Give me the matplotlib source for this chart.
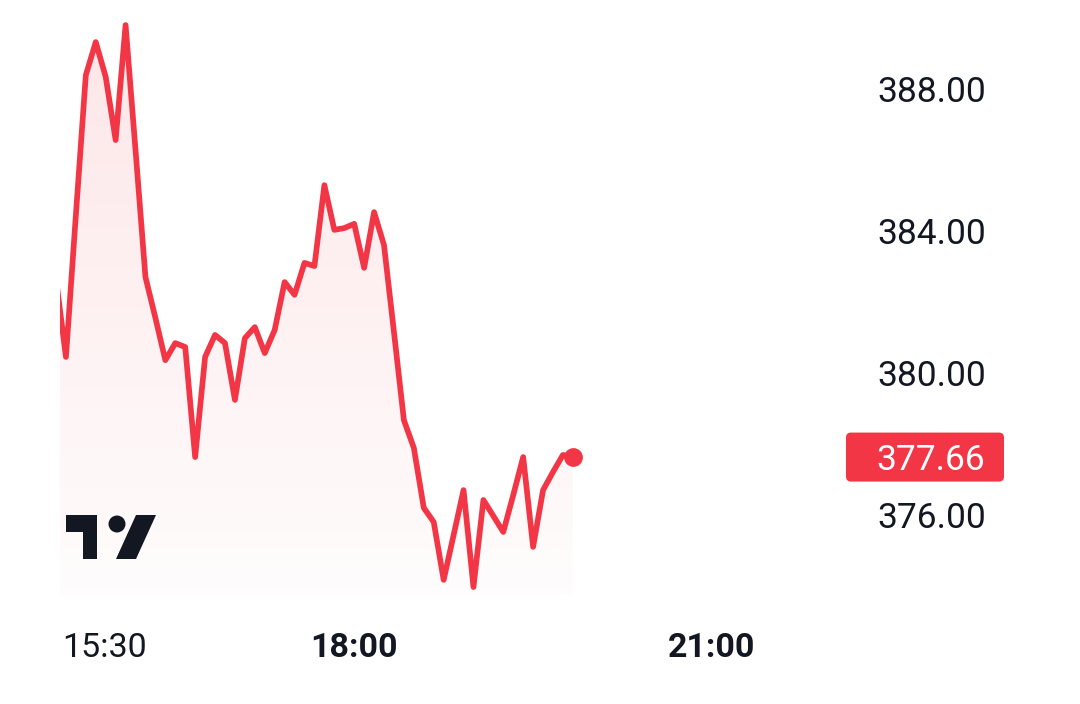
import numpy as np
import pandas as pd
import matplotlib
matplotlib.use("Agg")
import matplotlib.pyplot as plt
from matplotlib.patches import FancyBboxPatch, Rectangle, Circle, Polygon
from matplotlib.transforms import blended_transform_factory, ScaledTranslation

# ---------------- data ----------------
start_time = "15:30"
step_minutes = 5
prices = [382.68, 380.48, 384.48, 388.42, 389.35, 388.37, 386.59, 389.83, 386.31, 382.73,
          381.58, 380.39, 380.87, 380.76, 377.66, 380.48, 381.10, 380.87, 379.27, 381.01,
          381.32, 380.59, 381.24, 382.59, 382.23, 383.13, 383.04, 385.32, 384.06, 384.11,
          384.23, 382.99, 384.56, 383.63, 381.18, 378.70, 377.92, 376.23, 375.83, 374.20,
          375.46, 376.73, 374.00, 376.45, 376.00, 375.55, 376.59, 377.66, 375.13, 376.73,
          377.24, 377.72, 377.66]
price_ticks = [388.0, 384.0, 380.0, 376.0]
time_ticks = ["15:30", "18:00", "21:00"]
time_bold = [False, True, True]
last_price_label = "377.66"

RED = "#F23645"
TXT = "#131722"

def to_min(s):
    h, m = s.split(":")
    return (int(h) - 15) * 60 + int(m) - 30

x = np.arange(len(prices)) * step_minutes + to_min(start_time)
y = np.array(prices)

W, H = 1080, 704
fig = plt.figure(figsize=(W / 100, H / 100), dpi=100)
fig.patch.set_facecolor("white")
down = ScaledTranslation(0, -3 / 100, fig.dpi_scale_trans)

ax_l, ax_r, ax_top, ax_bot = 60, 850, 0, 595
ax = fig.add_axes([ax_l / W, 1 - ax_bot / H, (ax_r - ax_l) / W, (ax_bot - ax_top) / H])
ax.set_axis_off()
px_per_min = 1.988
x0_px = 56
ax.set_xlim((ax_l - x0_px) / px_per_min, (ax_r - x0_px) / px_per_min)
ppu = 35.5
ax.set_ylim(388 - (ax_bot - 90) / ppu, 388 + 90 / ppu)

# gradient fill under line
ylo, yhi = ax.get_ylim()
poly_x = np.concatenate([[x[0]], x, [x[-1]]])
poly_y = np.concatenate([[ylo], y, [ylo]])
clip = Polygon(np.column_stack([poly_x, poly_y]), closed=True, transform=ax.transData,
               fc="none", ec="none")
ax.add_patch(clip)
grad = np.linspace(0.13, 0.015, 256).reshape(-1, 1)
rgba = np.zeros((256, 1, 4))
rgba[..., 0] = 242 / 255
rgba[..., 1] = 54 / 255
rgba[..., 2] = 69 / 255
rgba[..., 3] = grad
im = ax.imshow(rgba, extent=[x[0], x[-1], ylo, yhi], origin="upper", aspect="auto",
               interpolation="bilinear", zorder=1)
im.set_clip_path(clip)

ax.plot(x, y, color=RED, lw=4.1, solid_joinstyle="round", solid_capstyle="round", zorder=3)
ax.plot([x[-1]], [y[-1]], "o", color=RED, ms=12.5, zorder=4)

# price axis labels
tr_py = blended_transform_factory(fig.transFigure, ax.transData)
for p in price_ticks:
    ax.text(986 / W, p, f"{p:.2f}", transform=tr_py + down, ha="right", va="center",
            fontsize=25.5, family="Roboto", color=TXT, clip_on=False)

# last price tag
fig.canvas.draw()
yc = ax.transData.transform((0, y[-1]))[1]
bw, bh = 158, 49
box = FancyBboxPatch((846, yc - bh / 2), bw, bh, boxstyle="round,pad=0,rounding_size=5",
                     transform=None, fc=RED, ec="none", zorder=5)
fig.patches.append(box)
fig.text(931 / W, yc / H, last_price_label, ha="center", va="center",
         transform=fig.transFigure + down,
         fontsize=25.5, family="Roboto", color="white", zorder=6)

# time labels
tr_tx = blended_transform_factory(ax.transData, fig.transFigure)
for lab, bold in zip(time_ticks, time_bold):
    xm = to_min(lab)
    if xm < ax.get_xlim()[0] + 1:
        ax.text(62 / W, 1 - 645 / H, lab, transform=fig.transFigure + down, ha="left", va="center",
                fontsize=24.5, family="Roboto", color=TXT,
                fontweight="bold" if bold else "normal")
    else:
        ax.text(xm, 1 - 645 / H, lab, transform=tr_tx + down, ha="center", va="center",
                fontsize=24.5, family="Roboto", color=TXT, clip_on=False,
                fontweight="bold" if bold else "normal")

# TradingView-style logo (decoration)
LOGO = "#131722"
def fp(px, py):
    return (px, H - py)
logo_parts = [
    Rectangle(fp(66, 532), 31, 17, transform=None, fc=LOGO, ec="none"),
    Rectangle(fp(83, 559), 14, 44, transform=None, fc=LOGO, ec="none"),
    Circle(fp(117, 524), 8.5, transform=None, fc=LOGO, ec="none"),
    Polygon([fp(136, 515), fp(156, 515), fp(136, 559), fp(116, 559)], closed=True,
            transform=None, fc=LOGO, ec="none"),
]
for p in logo_parts:
    p.set_zorder(7)
    fig.patches.append(p)

fig.savefig("out.png", dpi=100, facecolor="white")
